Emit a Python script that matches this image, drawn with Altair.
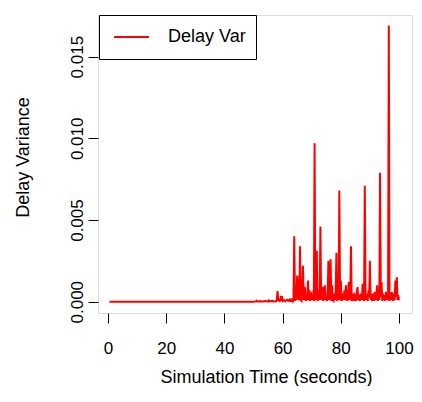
import altair as alt
import pandas as pd

# Simulation time (seconds)
time_s = [
    0.5, 50.0, 50.75, 51.0, 51.25, 52.5, 53.5, 54.0, 55.0, 55.25, 55.5, 56.5, 57.0,
    57.75, 58.0, 58.25, 58.5, 59.0, 59.25, 59.5, 59.75, 60.0, 60.5, 61.0, 61.5, 62.0,
    62.5, 62.75,
    63.0, 63.25, 63.5, 63.75, 64.0, 64.25, 64.5, 64.75, 65.0, 65.25, 65.5, 65.75,
    66.0, 66.25, 66.5, 66.75, 67.0, 67.25, 67.5, 67.75, 68.0, 68.25, 68.5, 68.75,
    69.0, 69.25, 69.5, 69.75, 70.0, 70.25, 70.5, 70.75, 71.0, 71.25, 71.5, 71.75,
    72.0, 72.25, 72.5, 72.75, 73.0, 73.25, 73.5, 73.75, 74.0, 74.25, 74.5, 74.75,
    75.0, 75.25, 75.5, 75.75, 76.0, 76.25, 76.5, 76.75, 77.0, 77.25, 77.5, 77.75,
    78.0, 78.25, 78.5, 78.75, 79.0, 79.25, 79.5, 79.75, 80.0, 80.25, 80.5, 80.75,
    81.0, 81.25, 81.5, 81.75, 82.0, 82.25, 82.5, 82.75, 83.0, 83.25, 83.5, 83.75,
    84.0, 84.25, 84.5, 84.75, 85.0, 85.25, 85.5, 85.75, 86.0, 86.25, 86.5, 86.75,
    87.0, 87.25, 87.5, 87.75, 88.0, 88.25, 88.5, 88.75, 89.0, 89.25, 89.5, 89.75,
    90.0, 90.25, 90.5, 90.75, 91.0, 91.25, 91.5, 91.75, 92.0, 92.25, 92.5, 92.75,
    93.0, 93.25, 93.5, 93.75, 94.0, 94.25, 94.5, 94.75, 95.0, 95.25, 95.5, 95.75,
    96.0, 96.25, 96.5, 96.75, 97.0, 97.25, 97.5, 97.75, 98.0, 98.25, 98.5, 98.75,
    99.0, 99.25, 99.5, 99.75, 100.0,
]

# Delay variance
delay_var = [
    0.0, 0.0, 0.00002, 0.00006, 0.00001, 0.00003, 0.00001, 0.00004, 0.00002, 0.00008,
    0.00002, 0.00005, 0.00001, 0.00003, 0.00012, 0.00065, 0.00010, 0.00004, 0.00020,
    0.00006, 0.00035, 0.00004, 0.00010, 0.00003, 0.00012, 0.00005, 0.00015, 0.00004,
    0.00005, 0.00012, 0.00003, 0.00020,   # 63
    0.00400, 0.00005, 0.00080, 0.00010,   # 64
    0.00160, 0.00120, 0.00010, 0.00030,   # 65
    0.00340, 0.00010, 0.00005, 0.00060,   # 66
    0.00220, 0.00010, 0.00090, 0.00080,   # 67
    0.00005, 0.00050, 0.00010, 0.00130,   # 68
    0.00010, 0.00070, 0.00005, 0.00040,   # 69
    0.00050, 0.00010, 0.00030, 0.00005,   # 70
    0.00970, 0.00010, 0.00040, 0.00310,   # 71
    0.00005, 0.00070, 0.00010, 0.00050,   # 72
    0.00460, 0.00010, 0.00060, 0.00090,   # 73
    0.00005, 0.00050, 0.00100, 0.00010,   # 74
    0.00040, 0.00005, 0.00060, 0.00250,   # 75
    0.00010, 0.00050, 0.00260, 0.00005,   # 76
    0.00100, 0.00010, 0.00005, 0.00050,   # 77
    0.00010, 0.00070, 0.00300, 0.00005,   # 78
    0.00040, 0.00010, 0.00680, 0.00010,   # 79
    0.00130, 0.00005, 0.00050, 0.00010,   # 80
    0.00040, 0.00070, 0.00010, 0.00100,   # 81
    0.00030, 0.00005, 0.00050, 0.00120,   # 82
    0.00010, 0.00040, 0.00340, 0.00005,   # 83
    0.00020, 0.00050, 0.00005, 0.00040,   # 84
    0.00030, 0.00005, 0.00060, 0.00090,   # 85
    0.00010, 0.00040, 0.00005, 0.00050,   # 86
    0.00030, 0.00010, 0.00110, 0.00050,   # 87
    0.00005, 0.00710, 0.00030, 0.00010,   # 88
    0.00050, 0.00005, 0.00070, 0.00030,   # 89
    0.00250, 0.00010, 0.00040, 0.00005,   # 90
    0.00050, 0.00030, 0.00005, 0.00060,   # 91
    0.00010, 0.00040, 0.00100, 0.00005,   # 92
    0.00050, 0.00010, 0.00790, 0.00030,   # 93
    0.00120, 0.00005, 0.00050, 0.00010,   # 94
    0.00040, 0.00005, 0.00060, 0.00030,   # 95
    0.00010, 0.00050, 0.01690, 0.00005,   # 96
    0.00040, 0.00010, 0.00060, 0.00030,   # 97
    0.00005, 0.00050, 0.00010, 0.00130,   # 98
    0.00030, 0.00150, 0.00010, 0.00040,   # 99
    0.00010,                              # 100
]

series_name = ["Delay Var"]
x_ticks = [0, 20, 40, 60, 80, 100]
y_ticks = [0.0, 0.005, 0.010, 0.015]

df = pd.DataFrame({
    "time": time_s,
    "var": delay_var,
    "series": series_name * len(time_s),
})

FONT = "Liberation Sans"

chart = alt.Chart(df).mark_line(strokeWidth=2, clip=True).encode(
    x=alt.X(
        "time:Q",
        scale=alt.Scale(domain=[-3.44, 104.47], nice=False, zero=False),
        axis=alt.Axis(
            values=x_ticks, format="d", title="Simulation Time (seconds)",
            grid=False, domain=False, tickSize=10, tickColor="black",
            labelFontSize=17, labelPadding=17, labelColor="black", labelFont=FONT,
            titleFontSize=18, titleFont=FONT, titleColor="black", titleFontWeight="normal",
            titleX=168, titleY=69, titleAlign="center", titleBaseline="alphabetic",
        ),
    ),
    y=alt.Y(
        "var:Q",
        scale=alt.Scale(domain=[-0.00069, 0.01755], nice=False, zero=False),
        axis=alt.Axis(
            values=y_ticks, format=".3f", title="Delay Variance",
            grid=False, domain=False, tickSize=10, tickColor="black",
            labelFontSize=17, labelPadding=6, labelColor="black", labelFont=FONT,
            labelAngle=270, labelAlign="center", labelBaseline="alphabetic",
            titleFontSize=18, titleFont=FONT, titleColor="black", titleFontWeight="normal",
            titleAngle=270, titleX=-70, titleY=142, titleAlign="center",
            titleBaseline="alphabetic",
        ),
    ),
    color=alt.Color(
        "series:N",
        scale=alt.Scale(domain=series_name, range=["#ff0000"]),
        legend=alt.Legend(
            title=None, orient="none", legendX=1, legendY=0,
            strokeColor="black", fillColor="white", padding=10,
            symbolType="stroke", symbolSize=1225, symbolStrokeWidth=2,
            symbolOffset=4, labelOffset=18, labelFontSize=18, labelFont=FONT,
            labelColor="black", clipHeight=24, cornerRadius=0,
        ),
    ),
).properties(
    width=314, height=298,
    autosize=alt.AutoSizeParams(type="none"),
    padding={"left": 90, "top": 7, "right": 2, "bottom": 73},
).configure_view(
    stroke="black", strokeWidth=1,
).configure(background="white")

chart.save("out.html", embed_options={"renderer": "svg", "actions": False})
